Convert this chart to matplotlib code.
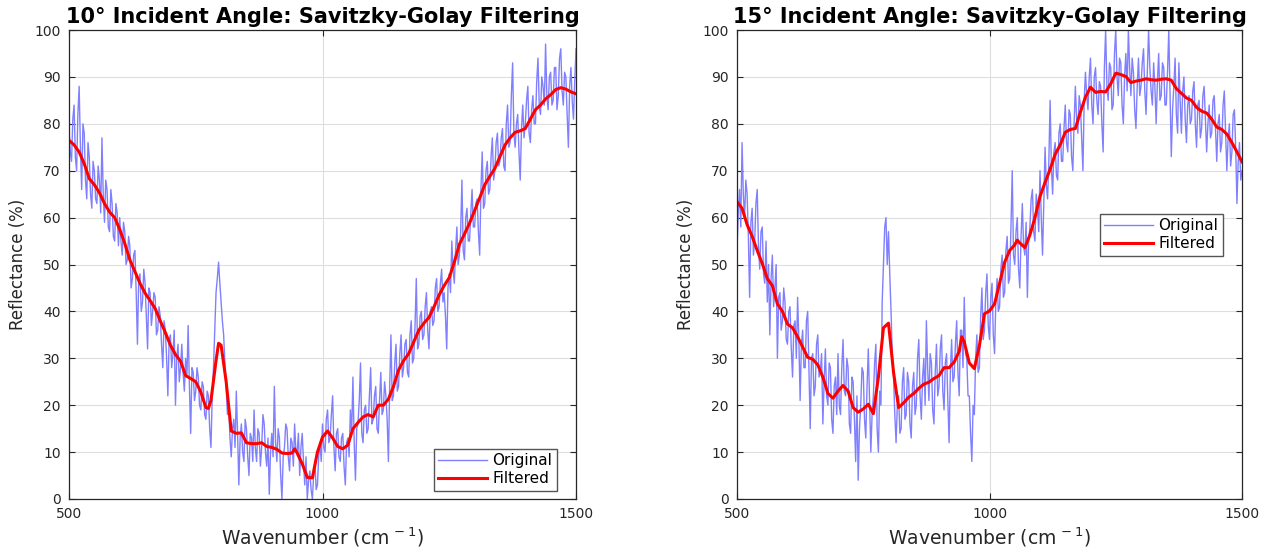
import matplotlib
matplotlib.use("Agg")
import matplotlib.pyplot as plt
import numpy as np

plt.rcParams['font.family'] = ['DejaVu Sans']
plt.rcParams['mathtext.fontset'] = 'dejavusans'

# ---------------- data ----------------
wavenumber = np.linspace(500, 1500, 401)   # 2.5 cm^-1 steps

orig_10 = [
    79, 74, 72, 81, 84, 73, 70, 82, 88, 75, 66, 80, 78, 68, 64, 76, 73, 65, 62, 72,
    70, 64, 63, 71, 68, 61, 77, 65, 59, 68, 66, 58, 57, 66, 63, 56, 55, 63, 61, 54,
    60, 55, 52, 59, 57, 50, 51, 56, 54, 45, 47, 52, 53, 44, 33, 47, 48, 40, 42, 49,
    46, 39, 32, 45, 44, 37, 40, 44, 43, 35, 36, 41, 39, 33, 28, 38, 36, 30, 22, 34,
    35, 28, 31, 36, 20, 30, 33, 25, 28, 33, 27, 23, 30, 26, 37, 24, 14, 28, 27, 21,
    23, 28, 26, 20, 19, 25, 24, 18, 17, 23, 22, 15, 11, 22, 28, 36, 44, 47, 50.5, 46,
    42, 38, 35, 29, 24, 18, 20, 13, 9, 15, 17, 11, 23, 14, 3, 13, 16, 10, 8, 17,
    15, 9, 5, 14, 13, 8, 19, 11, 8, 15, 14, 7, 11, 18, 16, 10, 7, 13, 1, 10,
    14, 9, 24, 12, 8, 15, 13, 5, 0, 9, 11, 16, 15, 9, 6, 13, 12, 7, 16, 10,
    10, 14, 5, 11, 14, 8, 3, 9, 0, 4, 6, 2, 0, 5, 8, 2, 3, 9, 12, 8,
    16, 11, 10, 17, 19, 12, 13, 18, 22, 11, 6, 14, 15, 9, 8, 13, 14, 7, 3, 12,
    13, 9, 19, 14, 26, 12, 4, 15, 16, 21, 29, 14, 12, 19, 20, 14, 15, 22, 28, 16,
    17, 22, 24, 15, 14, 21, 27, 18, 19, 25, 22, 17, 8, 24, 35, 21, 22, 29, 33, 23,
    24, 31, 35, 26, 28, 33, 34, 27, 26, 35, 38, 29, 30, 37, 47, 32, 33, 39, 40, 34,
    35, 41, 44, 36, 32, 40, 41, 37, 38, 45, 47, 40, 41, 46, 49, 42, 44, 39, 32, 45,
    48, 44, 55, 49, 46, 53, 58, 50, 52, 57, 68, 53, 51, 60, 62, 55, 55, 61, 66, 58,
    58, 63, 64, 57, 52, 66, 74, 62, 63, 70, 72, 65, 66, 73, 77, 68, 70, 76, 78, 71,
    72, 77, 79, 71, 70, 80, 84, 75, 76, 86, 93, 78, 75, 80, 82, 74, 68, 79, 84, 77,
    80, 85, 88, 78, 76, 83, 86, 80, 80, 89, 94, 84, 82, 90, 88, 84, 97, 86, 83, 90,
    91, 84, 85, 92, 92, 83, 86, 94, 96, 87, 84, 91, 90, 82, 75, 88, 92, 85, 81, 89, 96,
]

orig_15 = [
    53, 61, 66, 58, 76, 65, 60, 68, 65, 56, 43, 59, 62, 52, 55, 63, 66, 54, 49, 57,
    58, 48, 46, 55, 42, 50, 35, 47, 52, 41, 45, 50, 30, 43, 44, 36, 38, 45, 42, 34,
    33, 40, 41, 32, 26, 37, 38, 30, 43, 34, 21, 33, 36, 28, 28, 38, 40, 27, 15, 30,
    31, 22, 24, 33, 35, 26, 27, 31, 16, 25, 32, 22, 20, 29, 28, 17, 14, 24, 26, 18,
    31, 20, 18, 28, 34, 23, 22, 30, 28, 16, 14, 26, 25, 17, 8, 22, 4, 15, 20, 28,
    27, 17, 13, 24, 32, 21, 10, 18, 22, 29, 33, 15, 10, 23, 20, 42, 50, 58, 60, 50,
    57, 48, 40, 31, 26, 18, 12, 20, 22, 14, 15, 25, 28, 17, 18, 27, 25, 16, 13, 24,
    27, 18, 20, 30, 34, 22, 17, 26, 30, 20, 38, 28, 21, 31, 29, 19, 16, 27, 33, 22,
    24, 32, 35, 23, 19, 29, 31, 21, 12, 27, 34, 25, 26, 33, 38, 27, 22, 36, 36, 28,
    43, 31, 30, 22, 22, 14, 8, 20, 18, 30, 35, 27, 28, 39, 45, 34, 36, 44, 48, 37,
    34, 43, 46, 35, 31, 42, 47, 40, 41, 49, 52, 43, 44, 53, 56, 46, 47, 58, 70, 52,
    50, 57, 60, 49, 45, 56, 63, 54, 52, 59, 43, 55, 58, 64, 66, 57, 55, 65, 62, 57,
    70, 60, 52, 63, 75, 67, 64, 72, 85, 71, 65, 74, 76, 69, 68, 78, 80, 72, 72, 79,
    84, 76, 74, 83, 82, 73, 70, 80, 88, 81, 78, 86, 84, 77, 70, 85, 91, 86, 83, 90,
    94, 84, 80, 90, 92, 85, 82, 89, 88, 80, 74, 92, 100, 88, 85, 93, 92, 83, 84, 95,
    100, 90, 86, 94, 93, 84, 80, 90, 95, 87, 100, 92, 86, 94, 91, 83, 79, 88, 94, 86,
    88, 93, 96, 87, 82, 91, 100, 92, 87, 84, 93, 88, 80, 89, 95, 85, 86, 93, 92, 84,
    84, 91, 100, 86, 73, 83, 88, 94, 82, 78, 93, 85, 78, 87, 90, 81, 76, 84, 86, 80,
    81, 87, 89, 80, 75, 84, 85, 77, 79, 86, 88, 81, 74, 80, 84, 77, 78, 85, 86, 79,
    72, 80, 82, 74, 76, 84, 87, 78, 70, 77, 80, 71, 74, 82, 83, 75, 63, 72, 76, 68, 70,
]

filt_10_wn = [500, 510, 520, 530, 540, 550, 560, 570, 580, 590,
              600, 610, 620, 630, 640, 650, 660, 670, 680, 690,
              700, 710, 720, 730, 740, 750, 760, 770, 775, 780,
              790, 795, 800, 810, 820, 830, 840, 850, 860, 870,
              880, 890, 900, 910, 920, 930, 940, 945, 950, 960,
              970, 980, 990, 1000, 1010, 1020, 1030, 1040, 1050, 1060,
              1070, 1080, 1090, 1100, 1110, 1120, 1130, 1140, 1150, 1160,
              1170, 1180, 1190, 1200, 1210, 1220, 1230, 1240, 1250, 1260,
              1270, 1280, 1290, 1300, 1310, 1320, 1330, 1340, 1350, 1360,
              1370, 1380, 1390, 1400, 1410, 1420, 1430, 1440, 1450, 1460,
              1470, 1480, 1490, 1500]
filt_10 = [76.5, 75.5, 74.0, 71.5, 68.3, 67.0, 65.3, 63.0, 61.2, 60.0,
           57.5, 54.5, 51.0, 48.5, 46.0, 43.9, 42.3, 40.6, 38.0, 35.5,
           32.8, 30.8, 29.4, 26.3, 25.7, 25.0, 22.8, 19.5, 19.3, 21.0,
           29.5, 33.2, 32.8, 25.0, 14.5, 14.0, 14.1, 12.0, 11.8, 11.8,
           12.0, 11.2, 11.0, 10.6, 9.8, 9.7, 9.8, 10.7, 9.8, 7.5,
           4.6, 4.5, 10.0, 13.2, 14.5, 13.0, 11.2, 10.7, 11.5, 15.0,
           16.3, 17.5, 18.0, 17.5, 20.0, 20.0, 21.3, 24.0, 27.5, 29.5,
           31.0, 33.5, 36.0, 37.5, 38.7, 41.0, 43.5, 45.5, 47.2, 50.5,
           54.3, 56.5, 58.8, 61.5, 64.2, 67.0, 68.8, 70.5, 73.0, 75.5,
           77.0, 78.2, 78.5, 79.0, 81.0, 83.0, 84.0, 85.3, 86.2, 87.3,
           87.7, 87.4, 86.8, 86.4]

filt_15_wn = [500, 510, 520, 530, 540, 550, 560, 570, 580, 590,
              600, 610, 620, 630, 640, 650, 660, 670, 680, 690,
              700, 710, 720, 730, 740, 750, 760, 770, 780, 790,
              800, 810, 820, 830, 840, 850, 860, 870, 880, 890,
              900, 910, 920, 930, 940, 945, 950, 960, 970, 980,
              990, 1000, 1010, 1020, 1030, 1040, 1050, 1055, 1060, 1070,
              1080, 1090, 1100, 1110, 1120, 1130, 1140, 1150, 1160, 1170,
              1180, 1190, 1200, 1210, 1220, 1230, 1240, 1250, 1260, 1270,
              1280, 1290, 1300, 1310, 1320, 1330, 1340, 1350, 1360, 1370,
              1380, 1390, 1400, 1410, 1420, 1430, 1440, 1450, 1460, 1470,
              1480, 1490, 1500]
filt_15 = [63.4, 62.0, 58.5, 56.0, 53.0, 50.2, 47.0, 45.5, 41.6, 40.0,
           37.3, 36.5, 34.6, 32.4, 30.2, 29.8, 28.6, 26.0, 22.5, 21.5,
           23.0, 24.2, 23.0, 19.5, 18.5, 19.2, 20.2, 18.2, 26.0, 36.5,
           37.5, 27.0, 19.5, 20.5, 21.7, 22.5, 23.6, 24.5, 24.9, 25.7,
           26.3, 28.0, 28.0, 29.2, 31.5, 34.6, 33.5, 29.0, 27.8, 32.7,
           39.5, 40.1, 41.6, 46.0, 50.5, 53.0, 54.2, 55.2, 54.6, 53.6,
           56.3, 60.0, 64.5, 67.5, 70.3, 73.5, 75.5, 78.2, 78.8, 79.0,
           82.5, 85.7, 87.8, 86.7, 86.9, 86.8, 88.5, 90.8, 90.5, 90.1,
           88.8, 89.1, 89.3, 89.6, 89.4, 89.3, 89.5, 89.6, 89.3, 87.5,
           86.5, 85.5, 85.0, 83.5, 82.7, 82.3, 81.0, 79.3, 78.8, 77.8,
           76.0, 74.0, 71.9]

x_ticks = [500, 1000, 1500]
y_ticks = [0, 10, 20, 30, 40, 50, 60, 70, 80, 90, 100]
titles = ["10° Incident Angle: Savitzky-Golay Filtering",
          "15° Incident Angle: Savitzky-Golay Filtering"]

# ---------------- figure ----------------
W, H = 1266, 548
fig = plt.figure(figsize=(W / 100, H / 100), dpi=100)
ax1 = fig.add_axes([69 / W, 49 / H, 507 / W, 469 / H])
ax2 = fig.add_axes([737 / W, 49 / H, 505 / W, 469 / H])

panels = [
    (ax1, orig_10, filt_10_wn, filt_10, titles[0], (0.9625, 0.017)),
    (ax2, orig_15, filt_15_wn, filt_15, titles[1], (0.962, 0.518)),
]

dark = '#262626'
for ax, orig, fwn, filt, title, anchor in panels:
    ax.plot(wavenumber, orig, color='#8080ff', lw=1.0, label='Original')
    ax.plot(fwn, filt, color='#ff0000', lw=2.2, label='Filtered')
    ax.set_xlim(500, 1500)
    ax.set_ylim(0, 100)
    ax.set_xticks(x_ticks)
    ax.set_yticks(y_ticks)
    ax.grid(True, color='#dedede', lw=0.8)
    ax.set_axisbelow(True)
    ax.tick_params(direction='in', top=True, right=True, length=4.5,
                   width=0.8, labelsize=10, color=dark, labelcolor=dark,
                   pad=6)
    for s in ax.spines.values():
        s.set_color(dark)
        s.set_linewidth(0.9)
    ax.set_title(title, fontsize=15, fontweight='bold', pad=5)
    ax.set_xlabel(r'Wavenumber (cm$^{\,-1}$)', fontsize=13.5, color=dark,
                  labelpad=3)
    ax.set_ylabel('Reflectance (%)', fontsize=12, color=dark, labelpad=5)
    leg = ax.legend(loc='lower right', bbox_to_anchor=anchor, fontsize=11,
                    fancybox=False, framealpha=1, edgecolor='#555555',
                    handlelength=3.2, handletextpad=0.35, borderpad=0.3,
                    labelspacing=0.2, borderaxespad=0)
    leg.get_frame().set_linewidth(1.0)

fig.savefig('out.png', dpi=100)
